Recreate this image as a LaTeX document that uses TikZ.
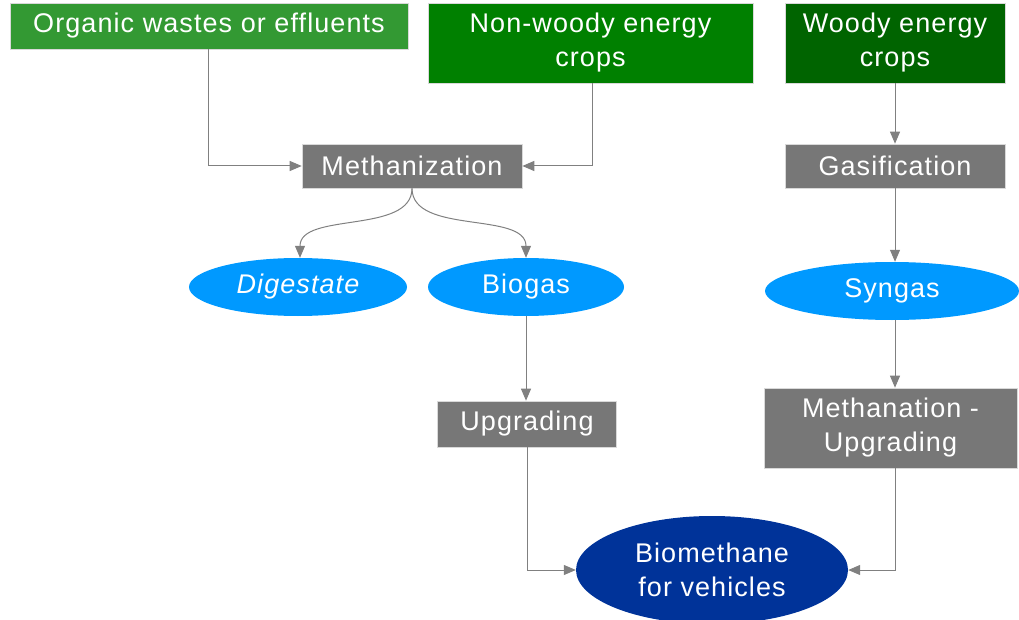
\documentclass[tikz,border=0pt]{standalone}
\usepackage{fontspec}
\setmainfont{Liberation Sans}[LetterSpace=4]
\usetikzlibrary{shapes.geometric,arrows.meta}
\definecolor{gOrg}{HTML}{339933}
\definecolor{gNon}{HTML}{008000}
\definecolor{gWood}{HTML}{006400}
\definecolor{procgray}{HTML}{777777}
\definecolor{lblue}{HTML}{0099FF}
\definecolor{dblue}{HTML}{003399}
\definecolor{arrgray}{HTML}{808080}
\tikzset{
  box/.style={rectangle, draw=white!85!black, line width=0.6pt, inner sep=0pt, text=white, align=center,
    font=\fontsize{27}{34}\selectfont},
  proc/.style={box, fill=procgray},
  oval/.style={ellipse, fill=lblue, inner sep=0pt, text=white, align=center,
    font=\fontsize{27}{34}\selectfont, minimum width=218pt, minimum height=58pt},
  conn/.style={draw=arrgray, line width=1pt, -{Triangle[length=12pt,width=10pt]}}
}
\begin{document}
\begin{tikzpicture}[x=1pt,y=-1pt]
\useasboundingbox (0,0) rectangle (1019,620);
\node[box, fill=gOrg, minimum width=398pt, minimum height=46pt] (org) at (209,26) {Organic wastes or effluents};
\node[box, fill=gNon, minimum width=325pt, minimum height=80pt] (nw) at (590.5,43) {Non-woody energy\\crops};
\node[box, fill=gWood, minimum width=220pt, minimum height=80pt] (wd) at (895,43) {Woody energy\\crops};
\node[proc, minimum width=220pt, minimum height=44pt] (meth) at (412,166) {Methanization};
\node[proc, minimum width=220pt, minimum height=44pt] (gas) at (895,166) {Gasification};
\node[oval] (dig) at (298,287) {\itshape Digestate};
\node[oval, minimum width=196pt] (bg) at (526,287) {Biogas};
\node[oval, minimum width=254pt] (syn) at (892,291) {Syngas};
\node[proc, minimum width=179pt, minimum height=46pt] (up) at (527,424) {Upgrading};
\node[proc, minimum width=253pt, minimum height=80pt] (mu) at (890.5,428) {Methanation -\\Upgrading};
\node[ellipse, fill=dblue, inner sep=0pt, text=white, align=center, font=\fontsize{27}{34}\selectfont,
  minimum width=272pt, minimum height=108pt] (bio) at (712,570) {Biomethane\\for vehicles};
\draw[conn] ([xshift=-1pt]org.south) |- (meth.west);
\draw[conn] ([xshift=2pt]nw.south) |- (meth.east);
\draw[conn] (meth.south) to[out=-90,in=90,looseness=0.9] ([xshift=2pt]dig.north);
\draw[conn] (meth.south) to[out=-90,in=90,looseness=0.9] (bg.north);
\draw[conn] (bg.south) -- (bg.south |- up.north);
\draw[conn] (up.south) |- (bio.west);
\draw[conn] (wd.south) -- (gas.north);
\draw[conn] (gas.south) -- (gas.south |- syn.north);
\draw[conn] (gas.south |- syn.south) -- (gas.south |- mu.north);
\draw[conn] (gas.south |- mu.south) |- (bio.east);
\end{tikzpicture}
\end{document}
